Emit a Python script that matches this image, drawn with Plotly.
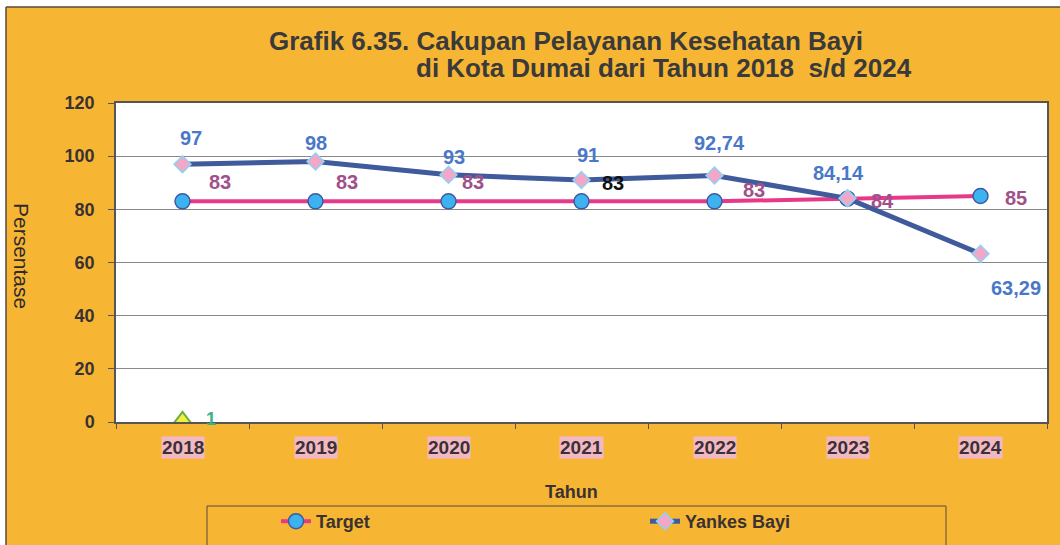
import plotly.graph_objects as go

# ---- data ----
years = ["2018", "2019", "2020", "2021", "2022", "2023", "2024"]
target = [83, 83, 83, 83, 83, 84, 85]
yankes = [97, 98, 93, 91, 92.74, 84.14, 63.29]
extra_year = ["2018"]
extra_val = [1]
y_ticks = [0, 20, 40, 60, 80, 100, 120]

title_1 = "Grafik 6.35. Cakupan Pelayanan Kesehatan Bayi"
title_2 = "di Kota Dumai dari Tahun 2018  s/d 2024"

# ---- style ----
ORANGE = "#F6B634"
TXT = "#3a3232"
FONT = "Liberation Sans, Arial, sans-serif"
L, R, T, B = 116, 13, 103, 123
W, H = 1060, 545
PW, PH = W - L - R, H - T - B

def px(x):
    return (x - L) / PW

def py(y):
    return (H - B - y) / PH

def fmt(v):
    return (f"{v:g}").replace(".", ",")

def cat(yr):
    return years.index(yr)

# label offsets (screen px: dx, dy)
target_off = [(37, -19), (31, -19), (24, -19), (31, -18), (39, -11), (35, 2), (35, 2)]
target_col = ["#A0508A", "#A0508A", "#A0508A", "#111111", "#A0508A", "#A0508A", "#A0508A"]
yankes_off = [(8, -26), (0, -18), (5, -18), (6, -25), (5, -32), (-9, -25), (35, 34)]

fig = go.Figure()
fig.add_trace(go.Scatter(
    x=years, y=target, name="Target", mode="lines+markers",
    line=dict(color="#E8388A", width=4),
    marker=dict(symbol="circle", size=15, color="#3DB2F0",
                line=dict(color="#3E5A9C", width=1.5)),
))
fig.add_trace(go.Scatter(
    x=years, y=yankes, name="Yankes Bayi", mode="lines+markers",
    line=dict(color="#3F5B9B", width=5),
    marker=dict(symbol="diamond", size=13, color="#F2A6C8",
                line=dict(color="#8FD3F2", width=1.5)),
))
fig.add_trace(go.Scatter(
    x=extra_year, y=extra_val, name="", mode="markers", showlegend=False,
    marker=dict(symbol="triangle-up", size=15, color="#F3EF3A",
                line=dict(color="#6AAE4A", width=2)),
))

ann = []
for i, (yr, v) in enumerate(zip(years, target)):
    dx, dy = target_off[i]
    ann.append(dict(x=cat(yr), y=v, xref="x", yref="y", text="<b>%s</b>" % fmt(v), showarrow=False,
                    xshift=dx, yshift=-dy, xanchor="center", yanchor="middle",
                    font=dict(family=FONT, size=20, color=target_col[i])))
for i, (yr, v) in enumerate(zip(years, yankes)):
    dx, dy = yankes_off[i]
    ann.append(dict(x=cat(yr), y=v, xref="x", yref="y", text="<b>%s</b>" % fmt(v), showarrow=False,
                    xshift=dx, yshift=-dy, xanchor="center", yanchor="middle",
                    font=dict(family=FONT, size=20, color="#4A78C8")))
for yr, v in zip(extra_year, extra_val):
    ann.append(dict(x=cat(yr), y=v, xref="x", yref="y", text="<b>%s</b>" % fmt(v), showarrow=False,
                    xshift=28, yshift=0, xanchor="center", yanchor="middle",
                    font=dict(family=FONT, size=18, color="#3CAF84")))
# x tick labels with pink highlight
for yr in years:
    ann.append(dict(x=cat(yr), y=py(447), xref="x", yref="paper", text="<b>%s</b>" % yr,
                    xanchor="center", yanchor="middle",
                    showarrow=False, bgcolor="#F3B8C6", borderpad=0,
                    font=dict(family=FONT, size=19, color=TXT)))

def pann(x, y, text, size, color, bold=True, angle=0):
    return dict(x=px(x), y=py(y), xref="paper", yref="paper",
                text=("<b>%s</b>" % text) if bold else text, textangle=angle,
                xanchor="center", yanchor="middle", showarrow=False,
                font=dict(family=FONT, size=size, color=color))

ann.append(pann(565.5, 41, title_1, 26, "#3a3a3a"))
ann.append(pann(663.5, 68, title_2, 26, "#3a3a3a"))
ann.append(pann(571, 492, "Tahun", 18, TXT))
ann.append(pann(21, 256, "Persentase", 21, "#2e2a2a", bold=False, angle=90))

shapes = [
    dict(type="rect", xref="paper", yref="paper", x0=px(-5), x1=px(1070), y0=py(7), y1=py(-5),
         fillcolor="white", line=dict(width=0), layer="above"),
    dict(type="rect", xref="paper", yref="paper", x0=px(-5), x1=px(6), y0=py(-5), y1=py(560),
         fillcolor="white", line=dict(width=0), layer="above"),
    dict(type="line", xref="paper", yref="paper", x0=px(6), x1=px(1070), y0=py(7), y1=py(7),
         line=dict(color="#5a4a3a", width=1.5), layer="above"),
    dict(type="line", xref="paper", yref="paper", x0=px(6), x1=px(6), y0=py(7), y1=py(560),
         line=dict(color="#5a4a3a", width=1.5), layer="above"),
    dict(type="rect", xref="paper", yref="paper", x0=px(207), x1=px(946), y0=py(506), y1=py(570),
         line=dict(color="#5a4a3a", width=1), layer="above"),
]

fig.update_layout(
    width=W, height=H,
    margin=dict(l=L, r=R, t=T, b=B, pad=0, autoexpand=False),
    paper_bgcolor=ORANGE, plot_bgcolor="white",
    font=dict(family=FONT, color=TXT),
    showlegend=True,
    legend=dict(orientation="h", x=px(276), xanchor="left", y=py(503), yanchor="top",
                bgcolor="rgba(0,0,0,0)", borderwidth=0,
                entrywidth=324, entrywidthmode="pixels",
                font=dict(family=FONT, size=18, color=TXT, weight="bold"), tracegroupgap=0),
    annotations=ann,
    shapes=shapes,
    xaxis=dict(type="category", categoryorder="array", categoryarray=years,
               range=[-0.5, 6.5], showticklabels=False, showgrid=False,
               showline=True, linecolor="#555555", linewidth=1.5, mirror=True,
               ticks="outside", ticklen=5, tickcolor="#555555", tickson="boundaries"),
    yaxis=dict(range=[0, 120], tickvals=y_ticks, showgrid=True, gridcolor="#8a8a8a", gridwidth=1,
               zeroline=False, showline=True, linecolor="#555555", linewidth=1.5, mirror=True,
               ticks="outside", ticklen=6, tickcolor="#555555",
               tickfont=dict(family=FONT, size=18, color=TXT, weight="bold"), ticklabelstandoff=10),
)

fig.write_html("out.html", config={"displayModeBar": False},
               post_script="document.body.style.margin='0';")
